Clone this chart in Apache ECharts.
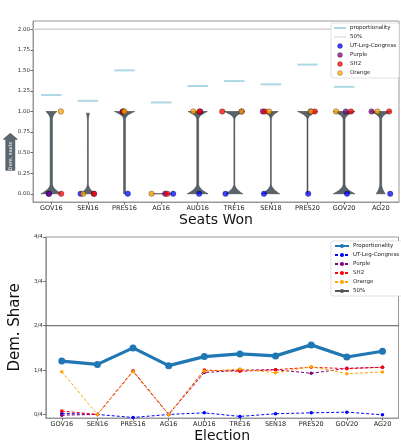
<!DOCTYPE html>
<html>
<head>
<meta charset="utf-8">
<script src="https://cdn.jsdelivr.net/npm/echarts@6/dist/echarts.min.js"></script>
<style>
  html, body { margin: 0; padding: 0; background: #fff; }
  #main { width: 401px; height: 446px; }
</style>
</head>
<body>
<div id="main"></div>
<script>
// elections (x categories, both panels)
const elections = ['GOV16', 'SEN16', 'PRES16', 'AG16', 'AUD16', 'TRE16', 'SEN18', 'PRES20', 'GOV20', 'AG20'];

// top panel: seats won (out of 4)
const proportionality = [1.20, 1.13, 1.50, 1.11, 1.31, 1.37, 1.33, 1.57, 1.30, 1.43];
const seatsLeg = [0, 0, 0, 0, 0, 0, 0, 0, 0, 0];
const seatsPurple = [0, 0, 1, 0, 1, 1, 1, 1, 1, 1];
const seatsSH2 = [0, 0, 1, 0, 1, 1, 1, 1, 1, 1];
const seatsOrange = [1, 0, 1, 0, 1, 1, 1, 1, 1, 1];
// horizontal jitter of the plan dots (category units)
const jitterLeg = [-0.07, -0.20, 0.09, 0.33, 0.04, -0.24, -0.19, 0.02, 0.08, 0.26];
const jitterPurple = [-0.06, 0.16, -0.05, 0.11, 0.07, 0.20, -0.22, 0.09, 0.05, -0.25];
const jitterSH2 = [0.27, 0.17, -0.03, 0.17, 0.05, -0.33, -0.16, 0.20, 0.19, 0.23];
const jitterOrange = [0.26, -0.13, 0.00, -0.26, -0.12, 0.20, -0.05, 0.09, -0.22, -0.09];
// ensemble violins: range and half widths at bottom / top / middle
const violinLow = [0, 0, 0, 0, 0, 0, 0, 0, 0, 0];
const violinHigh = [1, 0.98, 1, 0, 1, 1, 1, 1, 1, 1];
const violinBottom = [0.25, 0.19, 0, 0.30, 0.26, 0.22, 0.23, 0, 0.27, 0.10];
const violinTop = [0.12, 0.03, 0.25, 0, 0.24, 0.27, 0.19, 0.26, 0.27, 0.25];
const violinMid = [0.03, 0.012, 0.025, 0, 0.025, 0.012, 0.012, 0.012, 0.025, 0.025];
const halfSeats = 2;

// bottom panel: dem. share
const shareProp = [0.301, 0.282, 0.375, 0.275, 0.326, 0.341, 0.330, 0.392, 0.324, 0.356];
const shareLeg = [0.006, 0, -0.017, 0, 0.009, -0.011, 0.004, 0.009, 0.013, -0.002];
const sharePurple = [-0.004, 0, 0.245, 0, 0.236, 0.250, 0.252, 0.232, 0.260, 0.266];
const shareSH2 = [0.019, 0, 0.243, 0, 0.250, 0.243, 0.252, 0.266, 0.258, 0.266];
const shareOrange = [0.241, 0, 0.241, 0, 0.243, 0.256, 0.235, 0.269, 0.230, 0.239];
const halfShare = 0.5;

const idx = elections.map((_, i) => i);
const topMin = -0.5, topMax = 9.5;
const botMin = -0.45, botMax = 9.45;

const chart = echarts.init(document.getElementById('main'));

function dots(seats, jitter) {
  return seats.map((v, i) => [i + jitter[i], v]);
}

// violin body: flared ends at the low/high value, thin stem between
function violinItem(params, api) {
  const i = api.value(0), lo = api.value(1), hi = api.value(2);
  const b = api.value(3), t = api.value(4), m = api.value(5);
  if (hi <= lo) {
    const p0 = api.coord([i - b, lo]), p1 = api.coord([i + b, lo]);
    return { type: 'line', shape: { x1: p0[0], y1: p0[1], x2: p1[0], y2: p1[1] }, style: { stroke: '#444', lineWidth: 1 } };
  }
  const hb = 0.12, ht = 0.1, n = 100;
  const left = [], right = [];
  for (let k = 0; k <= n; k++) {
    const y = lo + (hi - lo) * k / n;
    const w = b * Math.pow(Math.max(0, 1 - (y - lo) / hb), 2)
            + t * Math.pow(Math.max(0, 1 - (hi - y) / ht), 2.2) + m;
    left.push(api.coord([i - w, y]));
    right.unshift(api.coord([i + w, y]));
  }
  return {
    type: 'polygon', shape: { points: left.concat(right) },
    style: { fill: '#59636b', stroke: '#2b3238', lineWidth: 0.5 }
  };
}

function dashItem(params, api) {
  const i = api.value(0), v = api.value(1);
  const p0 = api.coord([i - 0.28, v]), p1 = api.coord([i + 0.28, v]);
  return { type: 'line', shape: { x1: p0[0], y1: p0[1], x2: p1[0], y2: p1[1] }, style: { stroke: '#add8e6', lineWidth: 2 } };
}

const tickLabel = { fontSize: 5.5, color: '#333', fontFamily: 'DejaVu Sans', margin: 3 };
const xLabel = { fontSize: 6.5, color: '#222', fontFamily: 'DejaVu Sans', margin: 3, formatter: v => elections[v] };

const dotStyle = c => ({ color: c, opacity: 0.75, borderColor: '#000', borderWidth: 0.4 });

const option = {
  animation: false,
  backgroundColor: '#fff',
  grid: [
    { left: 33, right: 2, top: 21, bottom: 244, show: true, borderColor: '#999', borderWidth: 1 },
    { left: 36, right: 2.5, top: 237, bottom: 28, show: true, borderColor: '#999', borderWidth: 1 }
  ],
  xAxis: [
    {
      type: 'value', gridIndex: 0, min: topMin, max: topMax,
      name: 'Seats Won', nameLocation: 'middle', nameGap: 11,
      nameTextStyle: { fontSize: 14, color: '#111', fontFamily: 'DejaVu Sans' },
      axisLine: { onZero: false, lineStyle: { color: '#999' } },
      axisTick: { length: 2.5, customValues: idx, lineStyle: { color: '#666' } },
      axisLabel: Object.assign({ customValues: idx }, xLabel),
      splitLine: { show: false }
    },
    {
      type: 'value', gridIndex: 1, min: botMin, max: botMax,
      name: 'Election', nameLocation: 'middle', nameGap: 10,
      nameTextStyle: { fontSize: 14, color: '#111', fontFamily: 'DejaVu Sans' },
      axisLine: { onZero: false, lineStyle: { color: '#999' } },
      axisTick: { length: 2.5, customValues: idx, lineStyle: { color: '#666' } },
      axisLabel: Object.assign({ customValues: idx }, xLabel),
      splitLine: { show: false }
    }
  ],
  yAxis: [
    {
      type: 'value', gridIndex: 0, min: -0.1, max: 2.1,
      axisLine: { show: true, onZero: false, lineStyle: { color: '#999' } },
      axisTick: { show: true, length: 2.5, customValues: [0, 0.25, 0.5, 0.75, 1, 1.25, 1.5, 1.75, 2], lineStyle: { color: '#666' } },
      axisLabel: Object.assign({ customValues: [0, 0.25, 0.5, 0.75, 1, 1.25, 1.5, 1.75, 2], formatter: v => v.toFixed(2) }, tickLabel),
      splitLine: { show: false }
    },
    {
      type: 'value', gridIndex: 1, min: -0.02, max: 1,
      name: 'Dem. Share', nameLocation: 'middle', nameGap: 16,
      nameTextStyle: { fontSize: 15, color: '#111', fontFamily: 'DejaVu Sans' },
      axisLine: { show: true, onZero: false, lineStyle: { color: '#999' } },
      axisTick: { show: true, length: 2.5, customValues: [0, 0.25, 0.5, 0.75, 1], lineStyle: { color: '#666' } },
      axisLabel: Object.assign({ customValues: [0, 0.25, 0.5, 0.75, 1], formatter: v => Math.round(v * 4) + '/4' }, tickLabel),
      splitLine: { show: false }
    }
  ],
  legend: [
    {
      orient: 'vertical', left: 331, top: 23, itemWidth: 12, itemHeight: 5, itemGap: 3,
      padding: [2, 3], backgroundColor: '#fff', borderColor: '#ccc', borderWidth: 0.6, borderRadius: 2,
      itemStyle: { borderWidth: 0.3 },
      textStyle: { fontSize: 5.5, color: '#222', fontFamily: 'DejaVu Sans', padding: [0, 0, 0, -1] },
      data: [
        { name: 'proportionality', icon: 'path://M0,0H24V4H0Z' },
        { name: '50%', icon: 'path://M0,0H24V2H0Z' },
        'UT-Leg-Congress', 'Purple', 'SH2', 'Orange'
      ]
    },
    {
      orient: 'vertical', left: 331, top: 241, itemWidth: 14, itemHeight: 5, itemGap: 3,
      padding: [2, 3], backgroundColor: '#fff', borderColor: '#ccc', borderWidth: 0.6, borderRadius: 2,
      textStyle: { fontSize: 5.5, color: '#222', fontFamily: 'DejaVu Sans', padding: [0, 0, 0, -1] },
      data: ['Proportionality', 'UT-Leg-Congress ', 'Purple ', 'SH2 ', 'Orange ', '50% ']
    }
  ],
  graphic: [
    {
      type: 'polygon', left: 3, top: 133,
      shape: { points: [[7, 0], [14, 6], [11.5, 6], [11.5, 37], [2.5, 37], [2.5, 6], [0, 6]] },
      style: { fill: '#5d676f', stroke: '#3a4248', lineWidth: 0.6 }
    },
    {
      type: 'text', x: 10.3, y: 156, rotation: Math.PI / 2,
      style: { text: 'Dem. seats', fill: '#fff', fontSize: 5, fontFamily: 'DejaVu Sans', align: 'center', verticalAlign: 'middle' }
    }
  ],
  series: [
    {
      name: '50%', type: 'line', xAxisIndex: 0, yAxisIndex: 0,
      data: [[topMin, halfSeats], [topMax, halfSeats]], symbol: 'none',
      color: '#d3d3d3', lineStyle: { color: '#d3d3d3', width: 1.6 }, z: 1
    },
    {
      name: 'violins', type: 'custom', xAxisIndex: 0, yAxisIndex: 0,
      data: idx.map(i => [i, violinLow[i], violinHigh[i], violinBottom[i], violinTop[i], violinMid[i]]),
      renderItem: violinItem, z: 2
    },
    {
      name: 'proportionality', type: 'custom', xAxisIndex: 0, yAxisIndex: 0,
      data: idx.map(i => [i, proportionality[i]]), renderItem: dashItem,
      itemStyle: { color: '#add8e6' }, z: 2
    },
    { name: 'UT-Leg-Congress', type: 'scatter', xAxisIndex: 0, yAxisIndex: 0, symbolSize: 5.5, data: dots(seatsLeg, jitterLeg), itemStyle: dotStyle('#0000ff'), z: 3 },
    { name: 'Purple', type: 'scatter', xAxisIndex: 0, yAxisIndex: 0, symbolSize: 5.5, data: dots(seatsPurple, jitterPurple), itemStyle: dotStyle('#800080'), z: 3 },
    { name: 'SH2', type: 'scatter', xAxisIndex: 0, yAxisIndex: 0, symbolSize: 5.5, data: dots(seatsSH2, jitterSH2), itemStyle: dotStyle('#ff0000'), z: 3 },
    { name: 'Orange', type: 'scatter', xAxisIndex: 0, yAxisIndex: 0, symbolSize: 5.5, data: dots(seatsOrange, jitterOrange), itemStyle: dotStyle('#ffa500'), z: 3 },

    {
      name: 'Proportionality', type: 'line', xAxisIndex: 1, yAxisIndex: 1,
      data: idx.map(i => [i, shareProp[i]]), symbol: 'circle', symbolSize: 7,
      color: '#1f77b4', lineStyle: { width: 3.2 }, z: 3
    },
    {
      name: 'UT-Leg-Congress ', type: 'line', xAxisIndex: 1, yAxisIndex: 1,
      data: idx.map(i => [i, shareLeg[i]]), symbol: 'circle', symbolSize: 3.5,
      color: '#0000ff', lineStyle: { width: 1, type: [3, 2] }, z: 4
    },
    {
      name: 'Purple ', type: 'line', xAxisIndex: 1, yAxisIndex: 1,
      data: idx.map(i => [i, sharePurple[i]]), symbol: 'circle', symbolSize: 3.5,
      color: '#800080', lineStyle: { width: 1, type: [3, 2] }, z: 4
    },
    {
      name: 'SH2 ', type: 'line', xAxisIndex: 1, yAxisIndex: 1,
      data: idx.map(i => [i, shareSH2[i]]), symbol: 'circle', symbolSize: 3.5,
      color: '#ff0000', lineStyle: { width: 1, type: [3, 2] }, z: 4
    },
    {
      name: 'Orange ', type: 'line', xAxisIndex: 1, yAxisIndex: 1,
      data: idx.map(i => [i, shareOrange[i]]), symbol: 'circle', symbolSize: 3.5,
      color: '#ffa500', lineStyle: { width: 1, type: [3, 2] }, z: 4
    },
    {
      name: '50% ', type: 'line', xAxisIndex: 1, yAxisIndex: 1,
      data: [[botMin, halfShare], [botMax, halfShare]], symbol: 'none',
      color: '#555', lineStyle: { width: 1 }, z: 2
    }
  ]
};

chart.setOption(option);
</script>
</body>
</html>
